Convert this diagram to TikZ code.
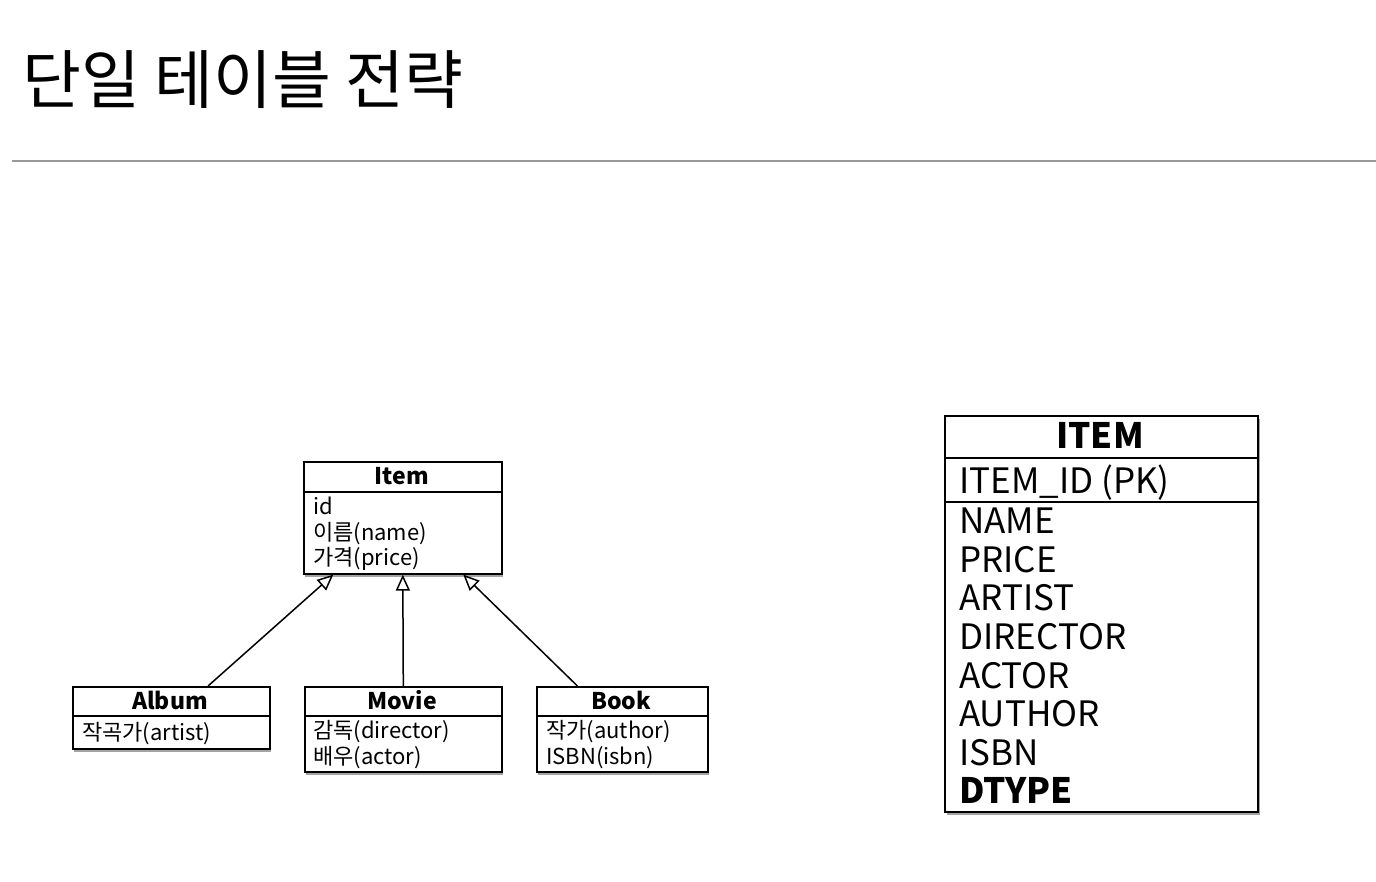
\documentclass[tikz,border=0pt]{standalone}
\usepackage{fontspec}
\setmainfont{Noto Sans CJK KR}
\usetikzlibrary{arrows.meta,shadows,calc}
\begin{document}
\begin{tikzpicture}[x=1pt,y=-1pt,
  box/.style={draw=black, line width=1.6pt, fill=white, inner sep=0pt, anchor=north west},
  shbox/.style={box, drop shadow={shadow xshift=1.5pt, shadow yshift=-3pt, opacity=0.45, fill=black!80}},
  hdr/.style={font=\fontsize{23}{23}\selectfont\bfseries, anchor=base},
  attr/.style={font=\fontsize{22}{22}\selectfont, anchor=base west, inner sep=0pt},
  thdr/.style={font=\fontsize{35}{35}\selectfont\bfseries, anchor=base},
  tattr/.style={font=\fontsize{35}{35}\selectfont, anchor=base west, inner sep=0pt},
  inh/.style={line width=1.5pt, -{Triangle[open, length=16pt, width=14pt]}}
]
\useasboundingbox (0,0) rectangle (1376,882);
% title
\node[font=\fontsize{64}{64}\selectfont, anchor=base west, inner sep=0pt] (title) at (22,104) {단일 테이블 전략};
\coordinate (rl) at (12,161);
\coordinate (rr) at (1376,161);
\draw[line width=1.2pt, draw=black!40] (rl) -- (rr);

% Item class
\node[shbox, minimum width=198pt, minimum height=112pt] (item) at (303,461) {};
\draw[line width=1.6pt] (303,492) -- (501,492);
\node[hdr] (itemT) at (402,484) {Item};
\node[attr] (itemA1) at (313,514) {id};
\node[attr] (itemA2) at (313,540) {이름(name)};
\node[attr] (itemA3) at (313,565) {가격(price)};

% Album
\node[shbox, minimum width=197pt, minimum height=62pt] (album) at (72,686) {};
\draw[line width=1.6pt] (72,716) -- (269,716);
\node[hdr] (albumT) at (170,709) {Album};
\node[attr] (albumA1) at (82,740) {작곡가(artist)};

% Movie
\node[shbox, minimum width=197pt, minimum height=85pt] (movie) at (304,686) {};
\draw[line width=1.6pt] (304,716) -- (501,716);
\node[hdr] (movieT) at (402,709) {Movie};
\node[attr] (movieA1) at (313,738) {감독(director)};
\node[attr] (movieA2) at (313,764) {배우(actor)};

% Book
\node[shbox, minimum width=171pt, minimum height=85pt] (book) at (536,686) {};
\draw[line width=1.6pt] (536,716) -- (707,716);
\node[hdr] (bookT) at (621,709) {Book};
\node[attr] (bookA1) at (546,738) {작가(author)};
\node[attr] (bookA2) at (546,764) {ISBN(isbn)};

% inheritance
\draw[inh] ($(album.north west)!0.685!(album.north east)$) -- ($(item.south west)!0.152!(item.south east)$);
\draw[inh] (movie.north) -- ($(item.south west)!0.5!(item.south east)$);
\draw[inh] ($(book.north west)!0.24!(book.north east)$) -- ($(item.south west)!0.803!(item.south east)$);

% ITEM table
\node[shbox, line width=2.4pt, minimum width=313pt, minimum height=396pt] (tbl) at (944,415) {};
\draw[line width=2pt] (944,458) -- (1257,458);
\draw[line width=2pt] (944,502) -- (1257,502);
\node[thdr] (tblT) at (1100,448) {ITEM};
\node[tattr] (pk) at (959,493) {ITEM\_ID (PK)};
\node[tattr] (c1) at (959,533) {NAME};
\node[tattr] (c2) at (959,572) {PRICE};
\node[tattr] (c3) at (959,610) {ARTIST};
\node[tattr] (c4) at (959,649) {DIRECTOR};
\node[tattr] (c5) at (959,688) {ACTOR};
\node[tattr] (c6) at (959,726) {AUTHOR};
\node[tattr] (c7) at (959,765) {ISBN};
\node[tattr, font=\fontsize{35}{35}\selectfont\bfseries] (c8) at (959,803) {DTYPE};
\end{tikzpicture}
\end{document}
